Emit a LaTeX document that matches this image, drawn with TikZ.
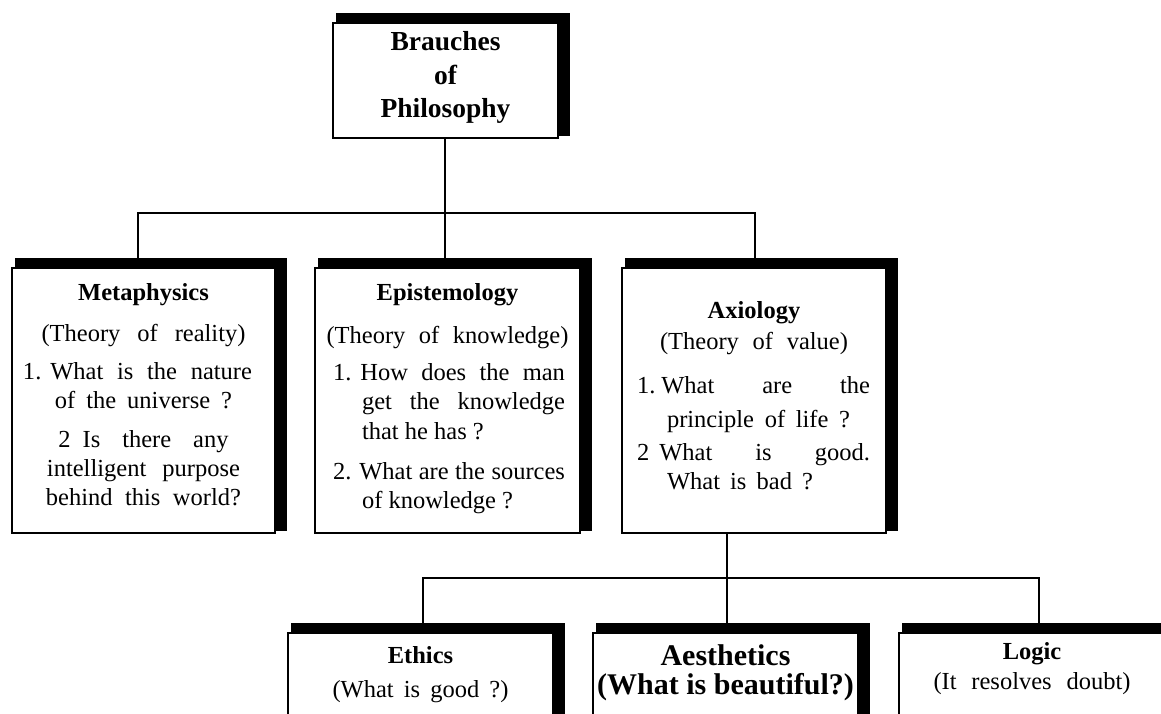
\documentclass[tikz,border=0pt]{standalone}
\usepackage{fontspec}
\setmainfont{Liberation Serif}
\usetikzlibrary{backgrounds,calc}
\newcommand\shadowof[1]{\fill[black] ($(#1.north west)+(4,-9)$) rectangle ($(#1.south east)+(11,-3)$);}
\newcommand\sline[2]{\makebox[#1][s]{#2}}
\begin{document}
\begin{tikzpicture}[x=1pt,y=-1pt,
  box/.style={draw=black, fill=white, line width=1.8pt, inner sep=0pt},
  conn/.style={draw=black, line width=1.8pt}]
\useasboundingbox (0,0) rectangle (1161,713);
\clip (0,0) rectangle (1161,713);
% top box
\node[box] (top) at (445.5,80.5) {\parbox[c][115pt][t]{225pt}{\centering\fontsize{27.5}{34}\selectfont\bfseries
  \rule{0pt}{27pt}Brauches\\of\\[-1pt]Philosophy}};
% Metaphysics
\node[box] (meta) at (143.5,400.5) {\parbox[c][265pt][t]{263pt}{\centering\fontsize{24.5}{29}\selectfont
  \rule{0pt}{32pt}\textbf{Metaphysics}\\[12pt]
  \sline{204pt}{(Theory of reality)}\\[9pt]
  \hspace*{-12pt}\sline{229pt}{1.\hspace{9pt}What is the nature}\\
  \sline{177pt}{of the universe ?}\\[10pt]
  \sline{170pt}{2\hspace{12pt}Is there any}\\
  \sline{193pt}{intelligent purpose}\\
  \sline{195pt}{behind this world?}}};
% Epistemology
\node[box] (epis) at (447.5,400.5) {\parbox[c][265pt][t]{265pt}{\raggedright\fontsize{24.5}{29}\selectfont
  \rule{0pt}{32pt}\makebox[265pt]{\bfseries Epistemology}\\[14pt]
  \makebox[265pt]{\sline{242pt}{(Theory of knowledge)}}\\[8pt]
  \hspace*{18pt}\sline{232pt}{1.\hspace{9pt}How does the man}\\
  \hspace*{47pt}\sline{203pt}{get the knowledge}\\[1pt]
  \hspace*{47pt}that he has ?\\[11pt]
  \hspace*{18pt}\sline{232pt}{2.\hspace{8pt}What are the sources}\\
  \hspace*{47pt}of knowledge ?}};
% Axiology
\node[box] (axio) at (754,400.5) {\parbox[c][265pt][t]{264pt}{\raggedright\fontsize{24.5}{29}\selectfont
  \rule{0pt}{50pt}\makebox[264pt]{\bfseries Axiology}\\[2pt]
  \makebox[264pt]{\sline{188pt}{(Theory of value)}}\\[15pt]
  \hspace*{15pt}\sline{233pt}{1.\hspace{6pt}What are the}\\[5pt]
  \hspace*{45pt}\sline{183pt}{principle of life ?}\\[4pt]
  \hspace*{15pt}\sline{233pt}{2\hspace{10pt}What is good.}\\
  \hspace*{45pt}\sline{146pt}{What is bad ?}}};
% bottom row
\node[box] (ethi) at (420.5,683) {\parbox[c][100pt][t]{265pt}{\centering\fontsize{24.5}{34}\selectfont
  \rule{0pt}{30pt}\textbf{Ethics}\\
  \sline{176pt}{(What is good ?)}}};
\node[box] (aest) at (725.5,683) {\parbox[c][100pt][t]{265pt}{\centering\fontsize{30}{29}\selectfont\bfseries
  \rule{0pt}{32pt}Aesthetics\\
  (What is beautiful?)}};
\node[box] (logi) at (1032,683) {\parbox[c][100pt][t]{266pt}{\centering\fontsize{24.5}{30}\selectfont
  \rule{0pt}{26pt}\textbf{Logic}\\
  \sline{197pt}{(It resolves doubt)}}};
% shadows and background
\begin{scope}[on background layer]
  \fill[white] (0,0) rectangle (1161,713);
  \shadowof{top}
  \shadowof{meta}
  \shadowof{epis}
  \shadowof{axio}
  \shadowof{ethi}
  \shadowof{aest}
  \shadowof{logi}
\end{scope}
% connectors
\coordinate (j1) at (445,213);
\coordinate (j2) at (727,578);
\draw[conn] (j1 |- top.south) -- (j1 |- epis.north);
\draw[conn] ([xshift=-5.5pt]meta.north) |- (j1) -| ([xshift=1pt]axio.north);
\draw[conn, line width=2.5pt] (j2 |- axio.south) -- (j2 |- aest.north);
\draw[conn] ([xshift=2.5pt]ethi.north) |- (j2) -| ([xshift=7pt]logi.north);
\end{tikzpicture}
\end{document}
